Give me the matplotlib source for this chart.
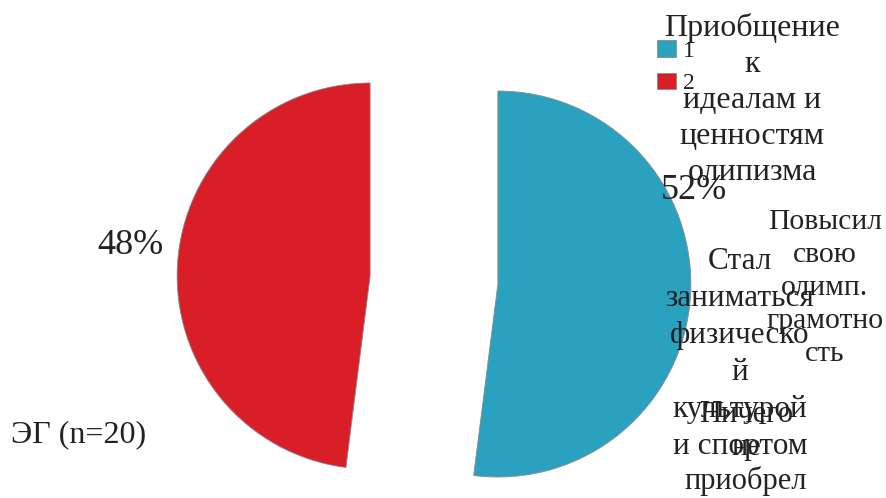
import matplotlib
matplotlib.use("Agg")
import matplotlib.pyplot as plt

# ---- data ----
categories = ["1", "2"]
values = [52, 48]
group_label = "ЭГ (n=20)"
answer_texts = [
    "Приобщение\nк\nидеалам и\nценностям\nолипизма",
    "Повысил\nсвою\nолимп.\nграмотно\nсть",
    "Стал\nзаниматься\nфизическо\nй\nкультурой\nи спортом",
    "Ничего\nне\nприобрел",
]

colors = ["#2BA1C0", "#DA1E28"]
W, H = 887, 498
plt.rcParams["font.family"] = ["Liberation Serif", "DejaVu Serif"]

fig = plt.figure(figsize=(W / 100, H / 100), dpi=100)
ax = fig.add_axes([0, 0, 1, 1])

R = 193
wedges, _ = ax.pie(values, colors=colors, startangle=90, counterclock=False,
                   center=(434, H - 280), radius=R, explode=[64, 64],
                   wedgeprops=dict(edgecolor="#8a8a8a", linewidth=0.6),
                   frame=True)
ax.set_xlim(0, W)
ax.set_ylim(0, H)
ax.set_aspect("equal")
ax.axis("off")

# percentage labels
ax.text(694, H - 190, f"{values[0]}%", fontsize=26, ha="center", va="center", color="#222222")
ax.text(130, H - 245, f"{values[1]}%", fontsize=26, ha="center", va="center", color="#222222")

# group label
ax.text(11, H - 435, group_label, fontsize=23, ha="left", va="center", color="#222222")

# answer texts
specs = [
    (752, 100, 23, 1.31),
    (825, 288, 21.3, 1.36),
    (740, 354, 22.5, 1.36),
    (746, 448, 22, 1.2),
]
for txt, (x, y, fs, ls) in zip(answer_texts, specs):
    ax.text(x, H - y, txt, fontsize=fs, ha="center", va="center",
            linespacing=ls, multialignment="center", color="#222222")

leg = fig.legend(wedges, categories, loc="upper left", bbox_to_anchor=(657 / W, 1 - 40 / H),
                 frameon=False, fontsize=17, handlelength=0.8, handleheight=0.72,
                 handletextpad=0.3, labelspacing=0.46, borderpad=0, borderaxespad=0)
for t in leg.get_texts():
    t.set_color("#222222")

fig.savefig("out.png", dpi=100)
